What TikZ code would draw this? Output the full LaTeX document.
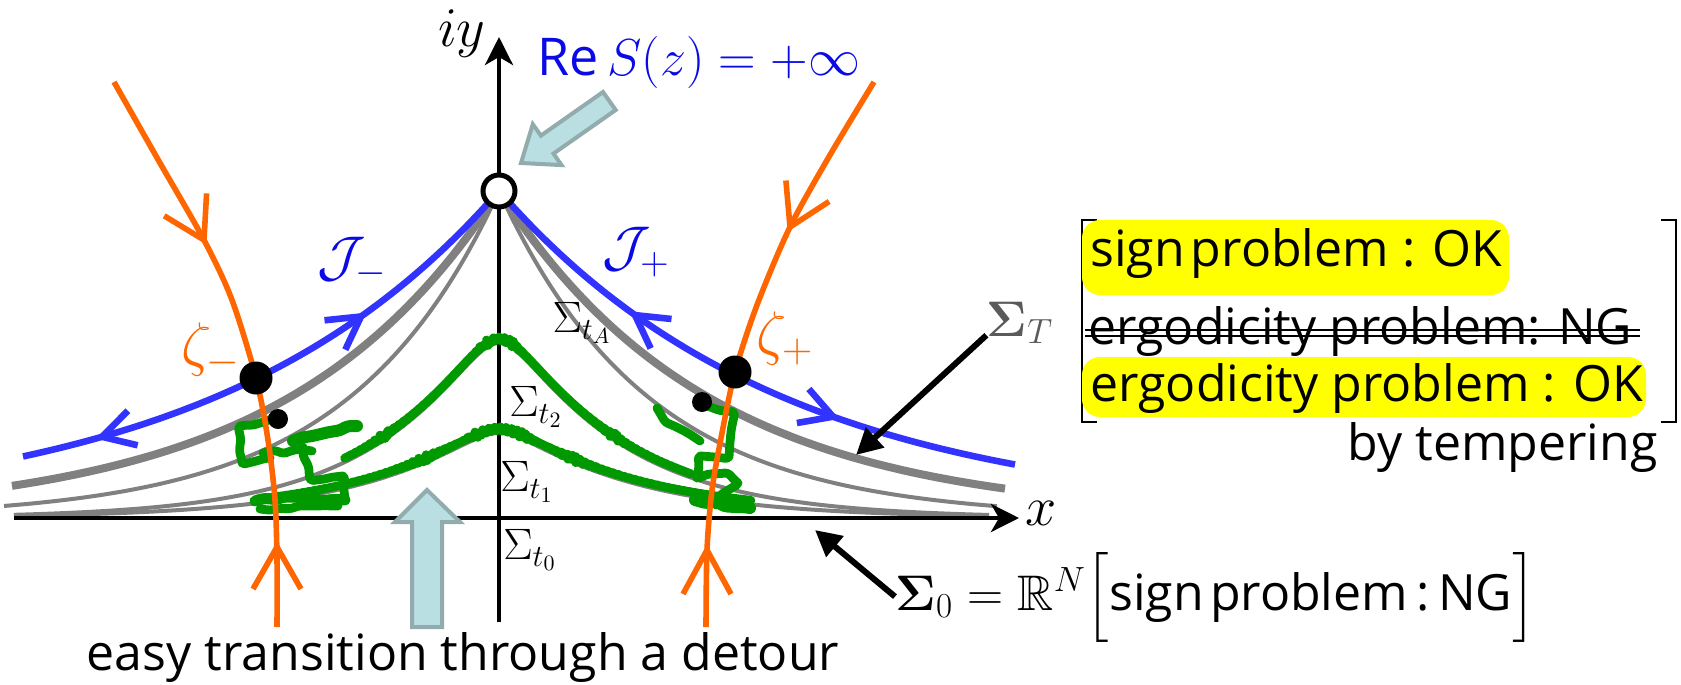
\RequirePackage{fix-cm}
\documentclass[tikz,border=0pt]{standalone}
\usepackage{amsmath}
\usepackage{amssymb}
\usepackage[no-math]{fontspec}
\newfontfamily\sansf{Open Sans}
\usetikzlibrary{arrows.meta,decorations.pathmorphing}
\definecolor{jblue}{RGB}{51,51,255}
\definecolor{tblue}{RGB}{10,10,230}
\definecolor{korange}{RGB}{255,102,0}
\definecolor{sgray}{RGB}{128,128,128}
\definecolor{tgray}{RGB}{90,90,90}
\definecolor{ggreen}{RGB}{0,153,0}
\definecolor{hyellow}{RGB}{255,255,0}
\definecolor{lbfill}{RGB}{185,223,227}
\definecolor{lbdraw}{RGB}{146,171,173}
\begin{document}
\begin{tikzpicture}[x=0.5pt,y=-0.5pt,
  declare function={
    fJ(\d)=327*exp(-abs(\d)/285);
    fT(\d)=327*exp(-abs(\d)/210);
    fA(\d)=327*exp(-abs(\d)/150);
    fB(\d)=175*exp(-(sqrt((\d/100)^2+0.0625)*100-25)/115);
    fC(\d)=85*exp(-(sqrt((\d/100)^2+0.0625)*100-25)/125);
  },
  thickg/.style={draw=sgray, line width=4pt},
  thing/.style={draw=sgray, line width=2pt},
  jline/.style={draw=jblue, line width=3.3pt},
  kline/.style={draw=korange, line width=2.8pt},
  chev/.style={line join=miter, line cap=butt},
  grn/.style={draw=ggreen, line width=4.4pt, line cap=round, line join=round, rounded corners=1.5pt,
    decorate, decoration={random steps, segment length=5pt, amplitude=1.1pt}},
  axisline/.style={draw=black, line width=2.2pt, -{Stealth[length=14pt,width=14pt,inset=4pt]}},
  blk/.style={draw=black, line width=3pt, -{Triangle[length=13pt,width=13pt]}},
  bigdot/.style={circle, fill=black, inner sep=0pt, minimum size=16.5pt},
  smalldot/.style={circle, fill=black, inner sep=0pt, minimum size=10pt},
  sanst/.style={font=\sansf\fontsize{25}{30}\selectfont, inner sep=0pt},
  mt/.style={font=\fontsize{28}{32}\selectfont, inner sep=0pt},
  sigt/.style={font=\fontsize{22}{26}\selectfont, inner sep=0pt},
  lbarrow/.style={fill=lbfill, draw=lbdraw, line width=2pt, line join=miter},
]
\useasboundingbox (0,0) rectangle (1681,685);
\pgfmathsetseed{12}

% ---- gray flow curves
\draw[thing] plot[domain=0:495,samples=90,smooth] ({499-\x},{518-fA(\x)});
\draw[thing] plot[domain=0:498,samples=90,smooth] ({499+\x},{518-fA(\x)});
\draw[thickg] plot[domain=0:487,samples=90,smooth] ({499-\x},{518-fT(\x)});
\draw[thickg] plot[domain=0:506,samples=90,smooth] ({499+\x},{518-fT(\x)});
\draw[thing] plot[domain=-485:490,samples=140,smooth] ({499+\x},{518-fB(\x)});
\draw[thing] plot[domain=-485:490,samples=140,smooth] ({499+\x},{518-fC(\x)});

% ---- axes
\draw[axisline] (499,622) -- (499,37);
\draw[axisline] (14,518) -- (1019,518);

% ---- green traces
\draw[grn] plot[domain=-154:191,samples=70] ({499+\x},{514-fB(\x)});
\draw[grn] plot[domain=-241:251,samples=90] ({499+\x},{514-fC(\x)});
\draw[grn] (272,419) -- (240,426) -- (242,463) -- (270,458);
\draw[grn] (263,453) -- (312,451);
\draw[grn, line width=6pt] (293,441) -- (325,433) -- (357,426);
\draw[grn] (303,447) -- (310,479) -- (343,476) -- (345,498);
\draw[grn, line width=5.5pt] (255,501) -- (300,497) -- (345,500);
\draw[grn] (260,509) -- (300,506) -- (338,506);
\draw[grn] (702,404) -- (733,412) -- (731,432) -- (729,457) -- (700,456) -- (697,478)
  -- (725,473) -- (738,483) -- (722,494) -- (716,505);
\draw[grn] (657,408) -- (664,420) -- (686,432) -- (700,441);
\draw[grn, line width=6pt] (695,500) -- (750,508);

% ---- thimbles J (blue)
\draw[jline] plot[domain=0:476,samples=80,smooth] ({499-\x},{518-fJ(\x)});
\draw[jline] plot[domain=0:516,samples=80,smooth] ({499+\x},{518-fJ(\x)});
\draw[jline, chev] (345.3,349.7) -- (361,316.5) -- (324.5,320.3);
\draw[jline, chev] (137.7,445.3) -- (102,436.8) -- (127.9,410.7);
\draw[jline, chev] (650.7,348.4) -- (635,315.1) -- (671.5,319.0);
\draw[jline, chev] (796.9,423.0) -- (833,416.7) -- (808.9,389.0);

% ---- thimbles K (orange)
\draw[kline] plot[smooth] coordinates {(114,82) (160,163) (204,240) (232,300) (256,378) (268,440) (275,500) (277,560) (277,627)};
\draw[kline] plot[smooth] coordinates {(874,82) (830,155) (790,227) (757,305) (735,372) (722,433) (712,490) (707,550) (706,627)};
\draw[kline, chev] (206.6,193.4) -- (204,240) -- (164.2,215.8);
\draw[kline, chev] (253,589) -- (277,547) -- (301,589);
\draw[kline, chev] (829.1,201.5) -- (790,227) -- (785.9,180.5);
\draw[kline, chev] (683,594) -- (707,550) -- (731,594);

% ---- points
\node[bigdot] (zm) at (256,378) {};
\node[bigdot] (zp) at (735,372) {};
\node[smalldot] (dm) at (278,419) {};
\node[smalldot] (dp) at (702,402) {};
\node[circle, draw=black, fill=white, line width=2.5pt, inner sep=0pt, minimum size=16pt] (inf) at (499,191) {};

% ---- light blue block arrows
\draw[lbarrow] (521,163) -- (561.5,165.1) -- (553.5,153.6) -- (615.7,110.0) -- (603.0,92.0)
  -- (540.9,135.6) -- (532.8,124.2) -- cycle;
\draw[lbarrow] (427,490) -- (460,522) -- (442,522) -- (442,627) -- (412,627) -- (412,522) -- (395,522) -- cycle;

% ---- axis labels
\node[mt] (ly) at (462,34) {$iy$};
\node[mt] (lx) at (1041,513) {$x$};
\node[font=\fontsize{26}{30}\selectfont, inner sep=0pt, text=tblue, anchor=base west] (res) at (537,75) {{\sansf Re}\,$S(z)=+\infty$};

% ---- curve labels
\node[mt, text=tblue] (jm) at (352,262) {$\mathcal{J}_-$};
\node[mt, text=tblue] (jp) at (636,252) {$\mathcal{J}_+$};
\node[font=\fontsize{30}{34}\selectfont, inner sep=0pt, text=korange] (lzm) at (211,350) {$\zeta_-$};
\node[font=\fontsize{30}{34}\selectfont, inner sep=0pt, text=korange] (lzp) at (785,338) {$\zeta_+$};
\node[sigt] (sA) at (582,323) {$\Sigma_{t_A}$};
\node[sigt] (s2) at (536,407) {$\Sigma_{t_2}$};
\node[sigt] (s1) at (527,482) {$\Sigma_{t_1}$};
\node[sigt] (s0l) at (530,550) {$\Sigma_{t_0}$};

% ---- Sigma_T and Sigma_0
\node[font=\fontsize{25}{30}\selectfont, inner sep=0pt, text=tgray] (sT) at (1020,323) {$\mathbf{\Sigma}_T$};
\coordinate (tT) at (856,455);
\draw[blk] (sT.200) -- (tT);
\node[font=\fontsize{25}{30}\selectfont, inner sep=0pt, anchor=base west] (s0) at (895,610) {$\mathbf{\Sigma}_0$};
\node[font=\fontsize{25}{30}\selectfont, inner sep=0pt, anchor=base west] (s0r) at (s0.base east)
  {$\;=\mathbb{R}^N\Bigl[$\sansf sign\hspace{0.12em}problem\,:\,NG$\Bigr]$};
\coordinate (t0) at (815,530);
\draw[blk] (s0.west) -- (t0);

% ---- right block
\draw[line width=1.2pt] (1097,220) -- (1082,220) -- (1082,422) -- (1097,422);
\draw[line width=1.2pt] (1661,220) -- (1676,220) -- (1676,422) -- (1661,422);
\fill[hyellow, rounded corners=9pt] (1082,220) rectangle (1509,295);
\fill[hyellow, rounded corners=9pt] (1082,357) rectangle (1646,417);
\node[sanst, anchor=base west] (ok1) at (1090,266) {sign\hspace{0.12em}problem : OK};
\node[sanst, anchor=base west] (ng1) at (1088,344) {ergodicity problem: NG};
\draw[line width=0.8pt] (1085,330) -- (1640,330);
\draw[line width=0.8pt] (1085,336) -- (1640,336);
\node[sanst, anchor=base west] (ok2) at (1090,401) {ergodicity problem : OK};
\node[sanst, anchor=base east] (temp) at (1658,460) {by tempering};

% ---- bottom label
\node[sanst, anchor=base] (easy) at (463,670) {easy transition through a detour};
\end{tikzpicture}
\end{document}
